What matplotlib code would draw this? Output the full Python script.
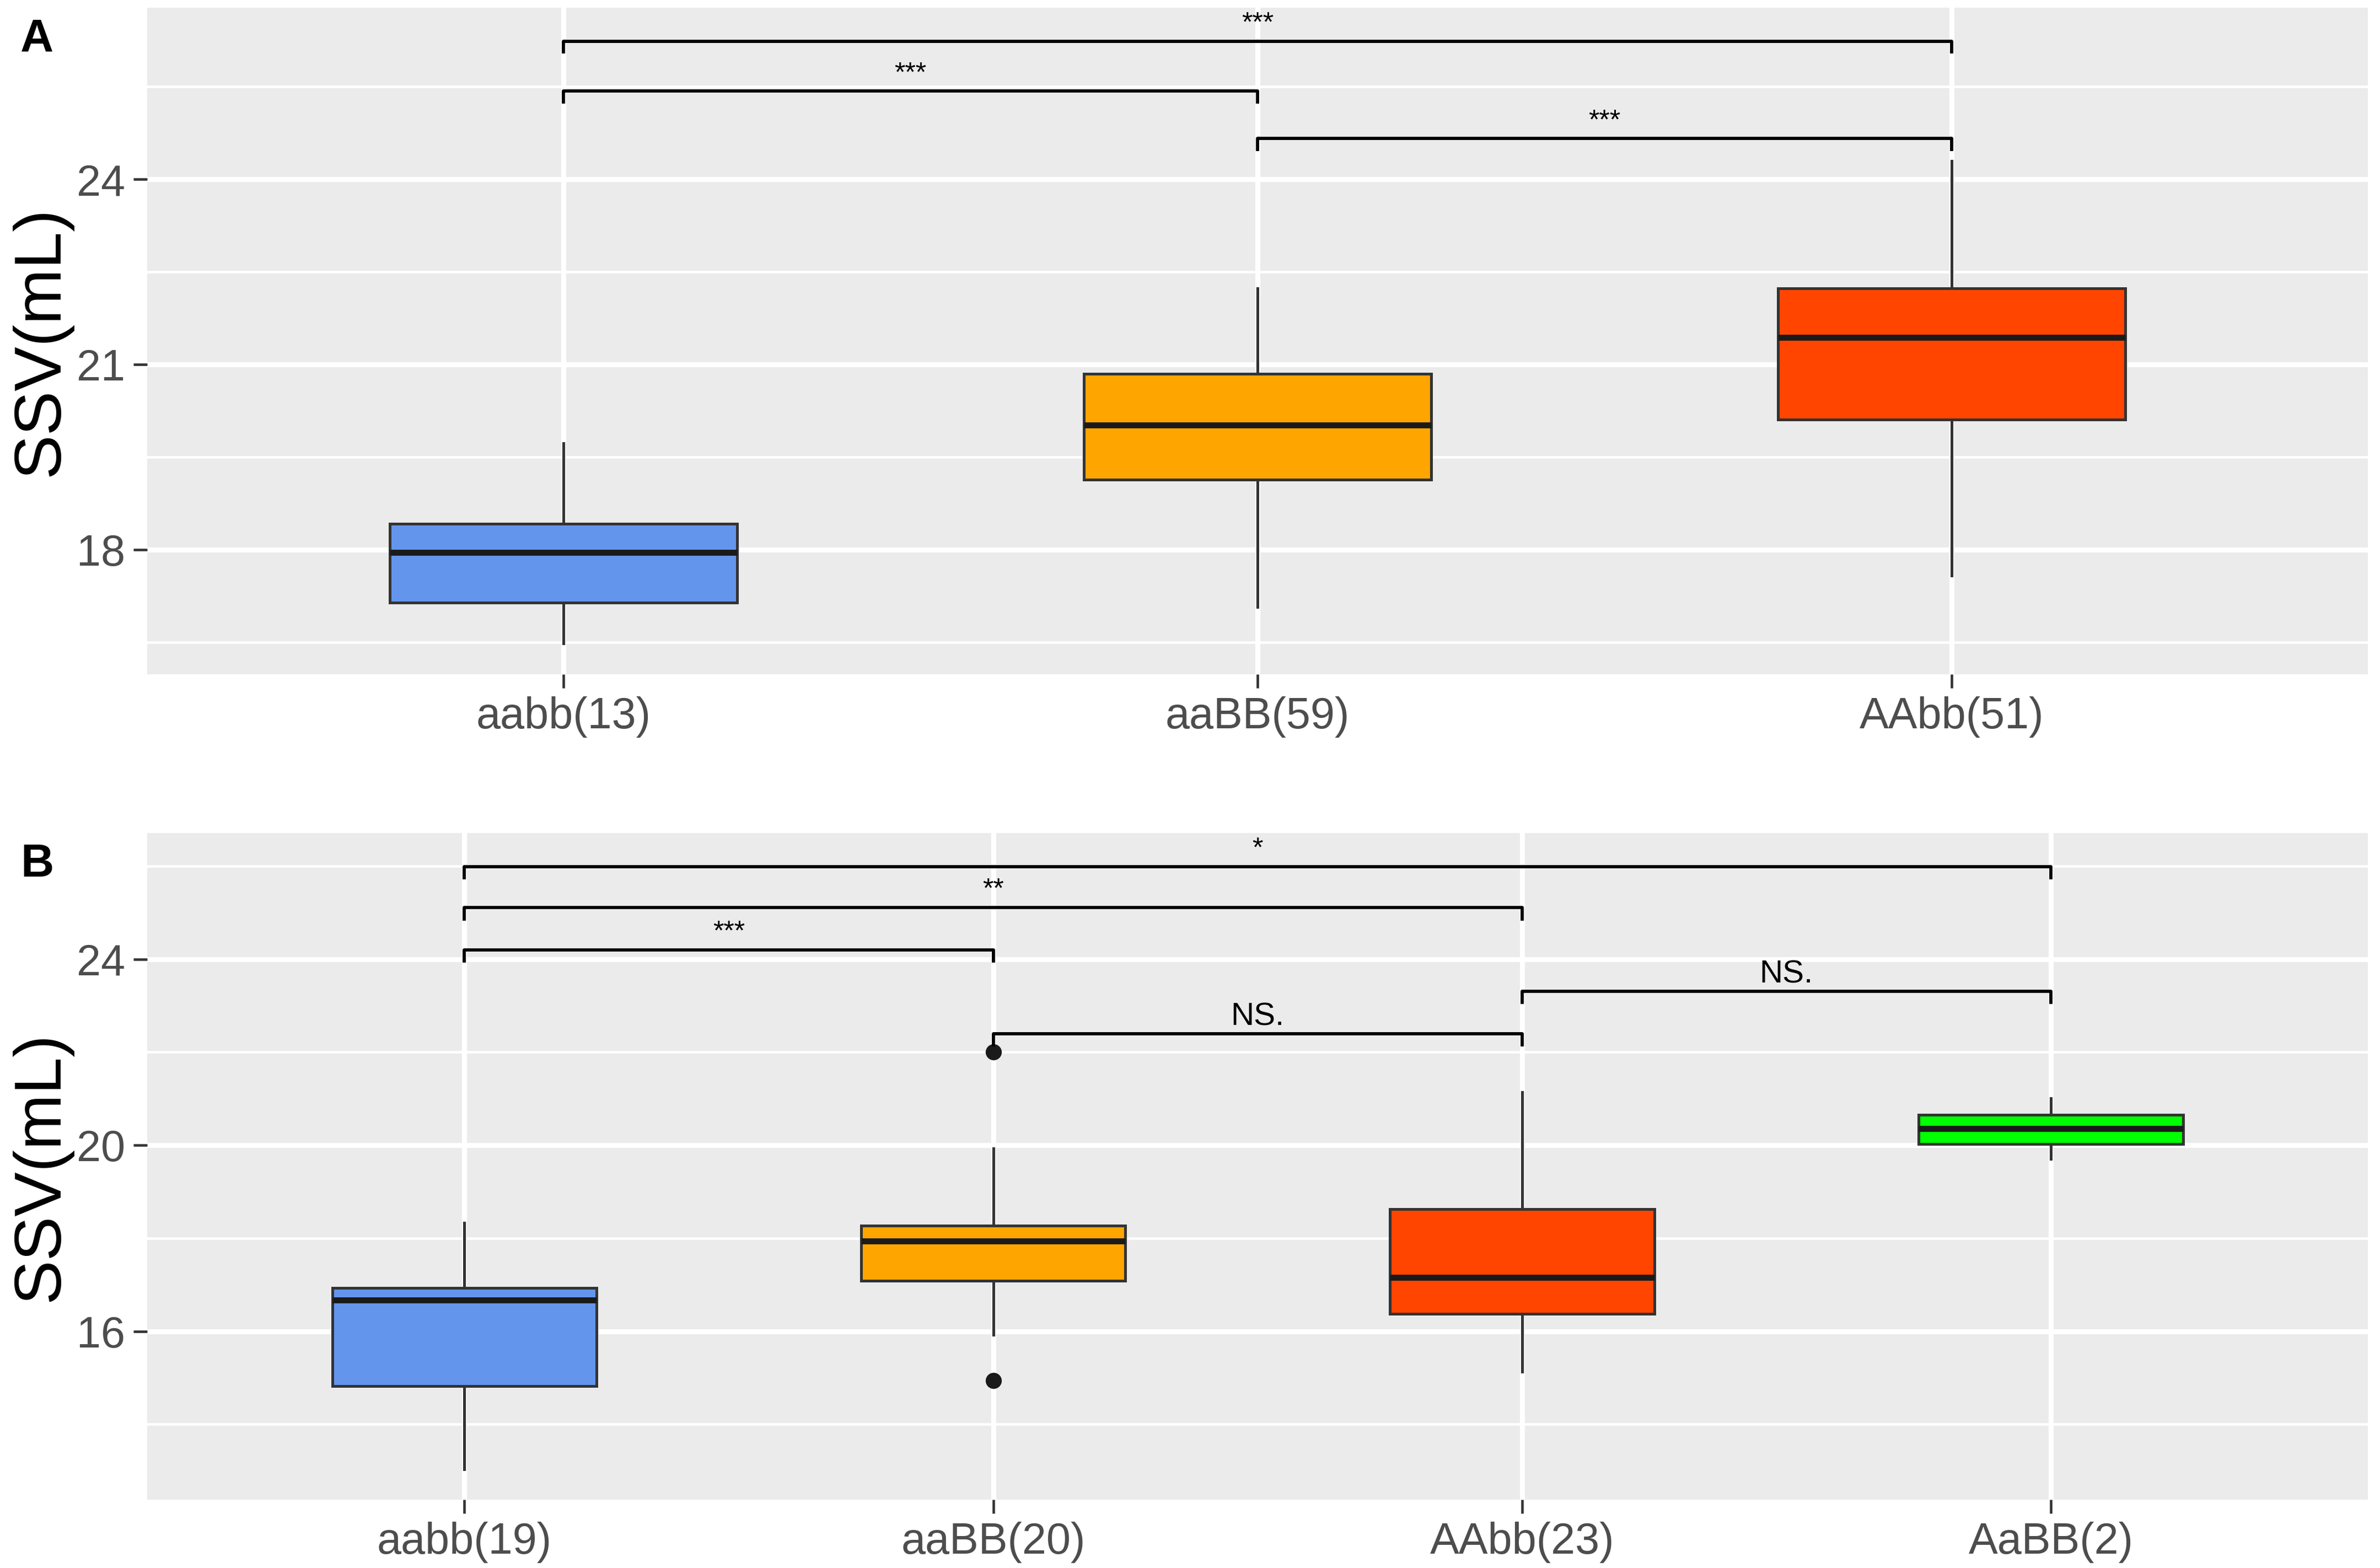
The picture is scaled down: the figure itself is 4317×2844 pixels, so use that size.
import matplotlib.pyplot as plt
import numpy as np

plt.rcParams['font.family'] = ['Liberation Sans', 'DejaVu Sans']

# panel A data
groups_a = ["aabb(13)", "aaBB(59)", "AAbb(51)"]
colors_a = ["#6495ED", "#FFA500", "#FF4500"]
whislo_a = [16.48, 17.07, 17.58]
q1_a = [17.14, 19.13, 20.11]
med_a = [17.95, 20.02, 21.44]
q3_a = [18.42, 20.85, 22.23]
whishi_a = [19.72, 22.23, 24.30]
fliers_a = [[], [], []]
# brackets: (left group, right group, height, label)
sig_a = [(0, 1, 25.43, "***"), (0, 2, 26.24, "***"), (1, 2, 24.66, "***")]

# panel B data
groups_b = ["aabb(19)", "aaBB(20)", "AAbb(23)", "AaBB(2)"]
colors_b = ["#6495ED", "#FFA500", "#FF4500", "#00FF00"]
whislo_b = [13.03, 15.92, 15.13, 19.71]
q1_b = [14.82, 17.09, 16.37, 20.03]
med_b = [16.67, 17.94, 17.16, 20.36]
q3_b = [16.93, 18.27, 18.63, 20.65]
whishi_b = [18.33, 19.93, 21.14, 21.01]
fliers_b = [[], [22.0, 14.94], [], []]
sig_b = [(0, 1, 24.20, "***"), (0, 2, 25.11, "**"), (0, 3, 25.99, "*"),
         (1, 2, 22.40, "NS."), (2, 3, 23.31, "NS.")]


def draw_panel(ax, groups, colors, wlo, q1, med, q3, whi, fliers, sigs,
               ylim, major, minor, tip, letter):
    stats = []
    for i in range(len(groups)):
        stats.append(dict(whislo=wlo[i], q1=q1[i], med=med[i], q3=q3[i],
                          whishi=whi[i], fliers=fliers[i], label=groups[i]))
    pos = np.arange(1, len(groups) + 1)

    ax.set_facecolor("#EBEBEB")
    for s in ax.spines.values():
        s.set_visible(False)
    ax.set_yticks(major)
    ax.set_yticks(minor, minor=True)
    ax.grid(True, which="major", color="white", linewidth=2.2)
    ax.grid(True, which="minor", axis="y", color="white", linewidth=1.1)
    ax.set_axisbelow(True)

    bp = ax.bxp(stats, positions=pos, widths=0.5, patch_artist=True,
                showcaps=False,
                boxprops=dict(edgecolor="#333333", linewidth=1.2),
                medianprops=dict(color="#1a1a1a", linewidth=2.6),
                whiskerprops=dict(color="#333333", linewidth=1.2),
                flierprops=dict(marker="o", markerfacecolor="#1a1a1a",
                                markeredgecolor="#1a1a1a", markersize=6))
    for patch, c in zip(bp["boxes"], colors):
        patch.set_facecolor(c)

    for a, b, h, lab in sigs:
        xa, xb = pos[a], pos[b]
        ax.plot([xa, xa, xb, xb], [h - tip, h, h, h - tip], color="black",
                linewidth=1.4, solid_capstyle="butt")
        if lab.startswith("*"):
            ax.text((xa + xb) / 2, h + tip * 0.35, lab, ha="center",
                    va="bottom", fontsize=12, color="black")
        else:
            ax.text((xa + xb) / 2, h + tip * 0.15, lab, ha="center",
                    va="bottom", fontsize=14, color="black")

    ax.set_xlim(0.4, len(groups) + 0.6)
    ax.set_ylim(*ylim)
    ax.set_xticks(pos)
    ax.set_xticklabels(groups)
    ax.tick_params(axis="both", which="major", labelsize=19,
                   labelcolor="#4D4D4D", color="#333333", length=6, width=1.1)
    ax.tick_params(axis="y", which="minor", length=0)
    ax.set_ylabel("SSV(mL)", fontsize=29, labelpad=2)
    ax.text(-0.057, 0.985, letter, transform=ax.transAxes, fontsize=20,
            fontweight="bold", ha="left", va="top")


fig = plt.figure(figsize=(4317 / 300, 2844 / 300), dpi=300)
ax_a = fig.add_axes([0.0618, 0.570, 0.9332, 0.425])
ax_b = fig.add_axes([0.0618, 0.0436, 0.9332, 0.4251])

draw_panel(ax_a, groups_a, colors_a, whislo_a, q1_a, med_a, q3_a, whishi_a,
           fliers_a, sig_a, (15.98, 26.78), [18, 21, 24],
           [16.5, 19.5, 22.5, 25.5], 0.2, "A")
draw_panel(ax_b, groups_b, colors_b, whislo_b, q1_b, med_b, q3_b, whishi_b,
           fliers_b, sig_b, (12.38, 26.71), [16, 20, 24],
           [14, 18, 22, 26], 0.28, "B")

fig.savefig("out.png", dpi=300)
